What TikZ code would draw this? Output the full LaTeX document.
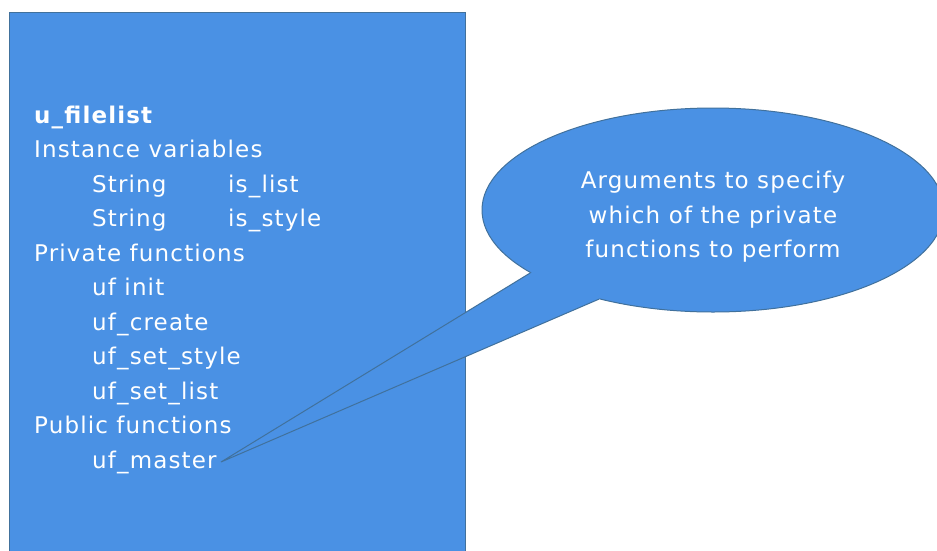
\documentclass[tikz,border=0pt]{standalone}
\usepackage{fontspec}
\setmainfont{DejaVu Sans}[LetterSpace=5]
\usetikzlibrary{shapes.geometric}
\definecolor{fillblue}{RGB}{74,145,228}
\definecolor{edgeblue}{RGB}{65,113,156}
\tikzset{
  shapefill/.style={fill=fillblue, draw=edgeblue, line width=1pt},
  txt/.style={anchor=base west, inner sep=0pt, text=white, font=\fontsize{23}{34.5}\selectfont},
  ctxt/.style={anchor=base, inner sep=0pt, text=white, font=\fontsize{23}{34.5}\selectfont},
}
\begin{document}
\begin{tikzpicture}[x=1pt,y=-1pt]
\useasboundingbox (0,0) rectangle (937,550);
\clip (0,0) rectangle (937,550);
\fill[white] (0,0) rectangle (937,550);
% class box
\node[shapefill, rectangle, minimum width=456pt, minimum height=560pt, anchor=north west, inner sep=0pt] (box) at (9,12) {};
% callout bubble
\node[shapefill, ellipse, minimum width=462pt, minimum height=204pt, inner sep=0pt] (bubble) at (713,210) {};
\coordinate (tip) at (221,462);
\fill[fillblue] (tip) -- (bubble.199) -- (650,230) -- (bubble.218) -- cycle;
\draw[edgeblue, line width=1pt] (bubble.199) -- (tip) -- (bubble.218);
% box text
\node[txt] (t0) at (34,123) {\textbf{u\_filelist}};
\node[txt] (t1) at (34,157.5) {Instance variables};
\node[txt] (t2) at (92,192) {String};
\node[txt] (t2b) at (228,192) {is\_list};
\node[txt] (t3) at (92,226.5) {String};
\node[txt] (t3b) at (228,226.5) {is\_style};
\node[txt] (t4) at (34,261) {Private functions};
\node[txt] (t5) at (92,295.5) {uf init};
\node[txt] (t6) at (92,330) {uf\_create};
\node[txt] (t7) at (92,364.5) {uf\_set\_style};
\node[txt] (t8) at (92,399) {uf\_set\_list};
\node[txt] (t9) at (34,433.5) {Public functions};
\node[txt] (t10) at (92,468) {uf\_master};
% bubble text
\node[ctxt] (b1) at (713,188) {Arguments to specify};
\node[ctxt] (b2) at (713,223) {which of the private};
\node[ctxt] (b3) at (713,257) {functions to perform};
\end{tikzpicture}
\end{document}
